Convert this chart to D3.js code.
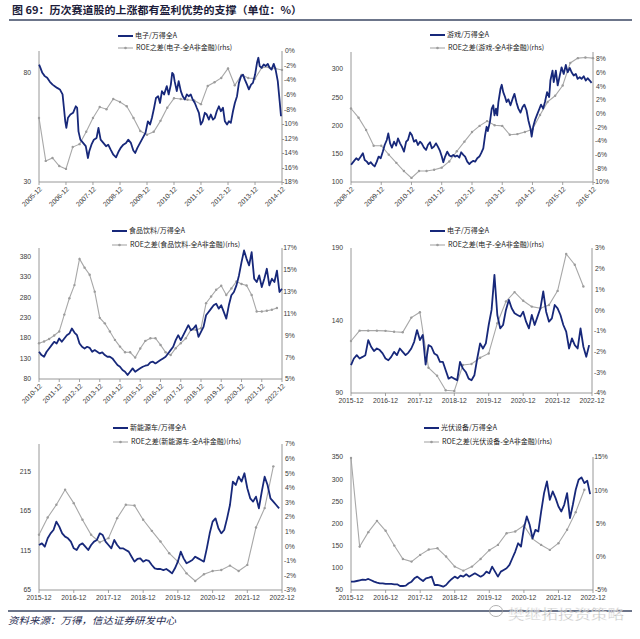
<!DOCTYPE html>
<html><head><meta charset="utf-8">
<script src="https://cdn.jsdelivr.net/npm/d3@7"></script>
<style>body{margin:0;background:#fff}svg{display:block}</style>
</head><body><svg id="c" width="640" height="639"></svg>
<script>
// ---------------- DATA ----------------
const titleText = "图 69：历次赛道股的上涨都有盈利优势的支撑（单位：%）";
const sourceText = "资料来源：万得，信达证券研发中心";
const watermarkText = "樊继拓投资策略";

// Panel 1: 电子 2005-12 ~ 2014-12 (blue as [decimal year, value])
const p1Names = ["电子/万得全A", "ROE之差(电子-全A非金融)(rhs)"];
const p1XLabels = ["2005-12","2006-12","2007-12","2008-12","2009-12","2010-12","2011-12","2012-12","2013-12","2014-12"];
const p1LeftTicks = [30, 80];
const p1RightTicks = [0,-2,-4,-6,-8,-10,-12,-14,-16,-18];
const p1Blue = [[2005.92,83.8],[2005.97,82.3],[2006.04,80],[2006.13,78.5],[2006.22,77.7],[2006.32,75.9],[2006.42,74.6],[2006.5,73.9],[2006.59,73.1],[2006.69,72.4],[2006.79,70.1],[2006.84,64],[2006.89,57.8],[2006.93,54.8],[2006.99,59.4],[2007.08,60.9],[2007.18,61.7],[2007.28,64.7],[2007.33,64],[2007.38,53.2],[2007.45,49.4],[2007.55,47.9],[2007.65,46.4],[2007.73,41],[2007.78,44.1],[2007.86,47.1],[2007.95,49.4],[2008.05,50.2],[2008.12,54.8],[2008.2,49.4],[2008.3,47.9],[2008.4,46.4],[2008.48,47.1],[2008.57,44.8],[2008.67,42.5],[2008.77,41.3],[2008.87,44.1],[2008.94,45.6],[2009.04,47.1],[2009.14,47.9],[2009.22,49.4],[2009.32,47.9],[2009.41,44.4],[2009.48,43.3],[2009.56,45.6],[2009.66,47.9],[2009.76,50.2],[2009.86,52.5],[2009.95,57.8],[2010.03,56.3],[2010.1,59.4],[2010.18,64],[2010.25,68.5],[2010.33,69.3],[2010.4,66.2],[2010.47,71.6],[2010.55,70.1],[2010.65,73.9],[2010.72,70.1],[2010.8,74.6],[2010.85,80],[2010.9,79.2],[2010.94,76.2],[2011.02,71.6],[2011.09,76.2],[2011.17,71.6],[2011.24,69.3],[2011.32,67.8],[2011.39,70.1],[2011.46,69.3],[2011.54,70.1],[2011.61,67.8],[2011.69,66.2],[2011.76,64],[2011.84,61.7],[2011.91,56.3],[2011.98,57.8],[2012.06,61.7],[2012.13,60.9],[2012.21,58.6],[2012.28,60.9],[2012.36,58.6],[2012.43,59.4],[2012.5,62.4],[2012.58,64.7],[2012.65,62.4],[2012.73,64],[2012.8,57.8],[2012.88,56.3],[2012.95,57.8],[2013.02,57.1],[2013.1,62.4],[2013.17,66.2],[2013.25,69.3],[2013.32,75.4],[2013.4,78.5],[2013.47,79.2],[2013.54,76.9],[2013.62,74.6],[2013.69,72.4],[2013.77,74.6],[2013.84,75.4],[2013.92,79.2],[2013.99,84.6],[2014.04,86.9],[2014.09,83.1],[2014.16,82.3],[2014.24,83.8],[2014.31,83.1],[2014.39,84.1],[2014.46,82.3],[2014.53,81.5],[2014.61,84.1],[2014.68,81.5],[2014.76,76.2],[2014.83,67],[2014.88,60.1]];
const p1Gray = [-9.2,-15.1,-14.7,-15.8,-16.2,-13.2,-12.8,-11.1,-9.2,-7.7,-8.0,-6.6,-7.0,-7.6,-9.2,-11.0,-11.5,-11.1,-9.6,-7.8,-6.5,-6.6,-6.7,-6.8,-7.3,-4.8,-4.3,-3.7,-2.4,-4.7,-3.3,-3.7,-3.8,-2.3,-2.2,-2.4,-2.6];

// Panel 2: 游戏 2008-12 ~ 2016-12
const p2Names = ["游戏/万得全A", "ROE之差(游戏-全A非金融)(rhs)"];
const p2XLabels = ["2008-12","2009-12","2010-12","2011-12","2012-12","2013-12","2014-12","2015-12","2016-12"];
const p2LeftTicks = [100,150,200,250,300];
const p2RightTicks = [8,6,4,2,0,-2,-4,-6,-8,-10];
const p2Blue = [[2008.92,130.4],[2009.0,136],[2009.09,142],[2009.16,139],[2009.24,145],[2009.31,151],[2009.37,139],[2009.44,136],[2009.5,131.6],[2009.57,135],[2009.64,130.4],[2009.7,127.5],[2009.77,136],[2009.83,145],[2009.9,142],[2009.97,153.8],[2010.03,165.5],[2010.1,174.3],[2010.15,186],[2010.21,168.4],[2010.27,160.8],[2010.34,171.3],[2010.41,164.3],[2010.47,177.2],[2010.54,168.4],[2010.6,162.6],[2010.67,153.8],[2010.74,171.3],[2010.8,174.3],[2010.87,187.7],[2010.93,183],[2011.0,171.3],[2011.07,174.3],[2011.13,165.5],[2011.2,171.3],[2011.26,167.8],[2011.33,160.8],[2011.4,156.7],[2011.46,165.5],[2011.53,170.2],[2011.59,159.6],[2011.66,162.6],[2011.73,168.4],[2011.79,162.6],[2011.86,155],[2011.92,145],[2011.97,135],[2012.03,145],[2012.1,153.8],[2012.17,146.8],[2012.23,145],[2012.3,148],[2012.36,145],[2012.43,146.8],[2012.5,143.3],[2012.56,152.6],[2012.63,148],[2012.69,145],[2012.76,136],[2012.83,131.6],[2012.89,135],[2012.96,137.4],[2013.02,136],[2013.09,142],[2013.16,145],[2013.22,151],[2013.29,159.6],[2013.35,183],[2013.4,197.7],[2013.44,190],[2013.51,206.4],[2013.57,229.8],[2013.62,235.7],[2013.66,218],[2013.71,229.8],[2013.75,218],[2013.79,241.5],[2013.86,265],[2013.9,272],[2013.95,259],[2014.01,250.3],[2014.06,241.5],[2014.12,246.2],[2014.19,235.7],[2014.26,247.4],[2014.32,256],[2014.39,240.4],[2014.45,229.8],[2014.52,222.8],[2014.59,232.7],[2014.65,236.8],[2014.72,226.9],[2014.78,209.4],[2014.85,194.7],[2014.89,180.1],[2014.94,197.7],[2015.0,209.4],[2015.07,219.3],[2015.14,228.7],[2015.2,236.8],[2015.27,229.8],[2015.33,241.5],[2015.4,259],[2015.47,250.3],[2015.51,279.5],[2015.58,297.1],[2015.62,276.6],[2015.69,297.1],[2015.75,270.8],[2015.82,288.3],[2015.88,302.9],[2015.95,291.2],[2016.02,307],[2016.08,294.2],[2016.15,301.8],[2016.21,294.2],[2016.28,288.3],[2016.35,291.2],[2016.41,282.5],[2016.48,285.4],[2016.54,282.5],[2016.61,287.1],[2016.68,279.5],[2016.74,283.6],[2016.81,279.5],[2016.87,275.4]];
const p2Gray = [0.74,-0.6,-2.4,-4.7,-4.7,-6.0,-7.2,-8.4,-9.4,-8.4,-8.4,-8.2,-7.9,-7.0,-5.5,-4.1,-2.7,-1.8,-1.1,-1.7,-1.8,-3.1,-3.0,-2.7,-2.3,-0.2,1.7,2.6,4.1,7.4,8.1,8.2,8.1];

// Panel 3: 食品饮料 2010-12 ~ 2022-12 (blue every 1.5 months)
const p3Names = ["食品饮料/万得全A", "ROE之差(食品饮料-全A非金融)(rhs)"];
const p3XLabels = ["2010-12","2011-12","2012-12","2013-12","2014-12","2015-12","2016-12","2017-12","2018-12","2019-12","2020-12","2021-12","2022-12"];
const p3LeftTicks = [80,130,180,230,280,330,380];
const p3RightTicks = [5,7,9,11,13,15,17];
const p3Blue = [146.5,138.4,134.3,146.5,154.6,162.7,170.8,166.8,179,170.8,179,187,191,203.3,193.5,187,166.8,158.7,154.6,158.7,156.2,146.5,150.6,146.5,142.4,144.9,138.4,134.3,134.3,130.3,122.2,114.1,110,101.9,97.8,89.7,97.8,106,97.8,101.9,106,110,112.4,114.1,120.6,122.2,118.1,122.2,126.2,130.3,134.3,142.4,150.6,158.7,174.9,187,174.9,187,199.2,211.4,199.2,203.3,211.4,183,195.2,207.3,235.7,243.8,251.9,260,264.1,251.9,260,243.8,227.6,260,284.4,292.5,308.7,333,365.5,393.9,373.6,357.4,389.8,325,316.8,333,304.7,325,349.3,308.7,325,316.8,344.7,292.5,300.6];
const p3Gray = [8.28,8.43,8.67,8.98,9.35,10.9,12.4,13.6,16.0,15.2,14.55,13.0,10.6,10.1,9.35,8.58,7.97,7.45,7.45,6.96,7.8,8.49,8.73,8.73,8.12,7.45,7.2,7.82,8.28,8.73,9.5,9.5,9.65,11.95,12.56,13.17,13.54,12.7,13.3,13.94,13.7,13.57,12.7,11.18,11.18,11.25,11.34,11.5];

// Panel 4: 电子 2015-12 ~ 2022-12 (blue monthly)
const p4Names = ["电子/万得全A", "ROE之差(电子-全A非金融)(rhs)"];
const p4XLabels = ["2015-12","2016-12","2017-12","2018-12","2019-12","2020-12","2021-12","2022-12"];
const p4LeftTicks = [90,140,190];
const p4RightTicks = [-4,-3,-2,-1,0,1,2,3];
const p4Blue = [109.2,113.8,116.1,113.8,114.9,116.1,126.5,121.9,118.9,120.7,119.6,117.3,113.8,112.6,114.9,118.4,116.1,120.7,118.4,116.1,117.9,120.7,125.3,133.4,126.5,130,109.6,123,121.9,117.3,116.1,111.5,111.5,105.7,99.9,101.1,99.9,98.8,111.5,106.9,104.5,99.9,98.8,102.2,113.8,124.2,120.7,124.2,136.9,147.3,171.5,143.8,134.6,136.9,147.3,154.2,148.4,145,143.8,142.7,146.1,139.2,134.6,143.8,136.9,142.7,148.4,160,146.1,139.2,141.5,150.7,148.4,143.8,136.9,132.3,120.7,127.6,123,120.7,134.6,121.9,115,123];
const p4Gray = [-1.49,-0.99,-0.99,-0.99,-1.0,-1.04,-1.07,-0.36,-0.1,-2.78,-3.17,-3.87,-3.9,-2.65,-2.6,-2.3,-2.09,-0.63,0.42,0.87,0.45,0.17,0.09,0.25,0.93,2.71,2.19,1.14];

// Panel 5: 新能源车 2015-12 ~ 2022-12 (blue monthly)
const p5Names = ["新能源车/万得全A", "ROE之差(新能源车-全A非金融)(rhs)"];
const p5XLabels = ["2015-12","2016-12","2017-12","2018-12","2019-12","2020-12","2021-12","2022-12"];
const p5LeftTicks = [65,115,165,215];
const p5RightTicks = [-3,-2,-1,0,1,2,3,4,5,6,7];
const p5Blue = [122,124.1,119.9,130.5,136.8,141,151.6,145.3,136.8,132.6,130.5,126.3,117.8,115.7,122,124.1,119.9,115.7,122,126.3,128.4,136.8,134.7,126.3,122,117.8,128.4,122,117.8,117.8,115.7,113.6,107.2,100.9,104.3,105.1,100.9,103,101.8,96.7,92.5,91.6,91.6,90.3,91.6,89.1,86.1,92.5,100.9,113.6,105.1,98.8,100.9,103,107.2,105.1,103,100.9,117.8,136.8,151.6,155.8,143.2,136.8,141,155.8,172.7,202.3,198.1,208.6,202.3,212.9,193.9,181.2,177,183.3,168.5,189.6,208.6,198.1,181.2,177,172.7,168.5];
const p5Gray = [0.78,1.97,2.84,3.87,2.95,1.81,0.78,0.27,0.55,1.92,2.84,2.79,1.81,1.05,0.32,-0.48,-1.05,-1.86,-2.38,-1.92,-1.7,-1.63,-1.33,-1.7,-1.28,1.28,2.61,5.47];

// Panel 6: 光伏设备 2015-12 ~ 2022-12 (blue monthly)
const p6Names = ["光伏设备/万得全A", "ROE之差(光伏设备-全A非金融)(rhs)"];
const p6XLabels = ["2015-12","2016-12","2017-12","2018-12","2019-12","2020-12","2021-12","2022-12"];
const p6LeftTicks = [50,100,150,200,250,300,350];
const p6RightTicks = [-5,0,5,10,15];
const p6Blue = [68.8,68.8,70.3,71.9,73.4,72.6,74.9,71.9,68.8,66.6,65.1,65.1,63.6,63.6,63.6,62.8,62.8,59,59,59.8,65.1,68.8,76.4,80.1,74.9,70.3,76.4,77.9,80.1,61.3,61.3,59.8,57.5,61.3,68.8,74.9,80.1,76.4,82.4,80.1,85.4,80.1,83.9,87.7,83.9,80.1,83.9,91.4,87.7,102.8,91.4,80.1,91.4,95.2,99,106.5,121.6,136.7,155.5,147.9,189.4,215.8,197,166.8,185.6,181.9,227.1,268.5,294.9,253.5,272.3,257.2,238.4,227.1,242.2,268.5,212,242.2,276.1,298.7,304,291.1,296.4,266.3];
const p6Gray = [14.85,1.53,3.7,5.4,3.9,1.68,-0.33,-0.73,0.28,1.08,1.28,0.03,-1.48,-2.09,-1.48,-0.33,0.98,1.78,3.54,3.79,4.7,2.69,1.78,1.03,2.04,4.05,6.71,10.08];

// ---------------- HELPERS ----------------
const toDate = t => { const y = Math.floor(t); const a = Date.UTC(y,0,1), b = Date.UTC(y+1,0,1); return new Date(a + (t-y)*(b-a)); };
const labelYear = s => +s.slice(0,4) + (+s.slice(5)-1)/12;
const pairsSeries = arr => arr.map(d => [toDate(d[0]), d[1]]);
const stepSeries = (arr, start, stepMonths) => arr.map((v,i) => [toDate(start + i*stepMonths/12), v]);

// ---------------- LAYOUT ----------------
const BLUE = "#17287a", GRAY = "#a8a8a8", AXIS = "#8c8c8c", TXT = "#3a3a3a";
const panels = [
  {names:p1Names, xl:p1XLabels, lt:p1LeftTicks, rt:p1RightTicks, ld:[30,90], rd:[-18,0], blue:pairsSeries(p1Blue), gray:p1Gray, rot:true,
   box:{l:39,t:51,r:282,b:182}, leg:{x:118,y1:36,y2:48}},
  {names:p2Names, xl:p2XLabels, lt:p2LeftTicks, rt:p2RightTicks, ld:[100,330], rd:[-10,9], blue:pairsSeries(p2Blue), gray:p2Gray, rot:true,
   box:{l:351,t:52,r:593,b:182}, leg:{x:430,y1:35,y2:48}},
  {names:p3Names, xl:p3XLabels, lt:p3LeftTicks, rt:p3RightTicks, ld:[80,400], rd:[5,17], blue:stepSeries(p3Blue, labelYear(p3XLabels[0]), 1.5), gray:p3Gray, rot:true,
   box:{l:39,t:248,r:282,b:379}, leg:{x:112,y1:231,y2:245}},
  {names:p4Names, xl:p4XLabels, lt:p4LeftTicks, rt:p4RightTicks, ld:[90,190], rd:[-4,3], blue:stepSeries(p4Blue, labelYear(p4XLabels[0]), 1), gray:p4Gray, rot:false,
   box:{l:351,t:248,r:592,b:393}, leg:{x:430,y1:231,y2:245}},
  {names:p5Names, xl:p5XLabels, lt:p5LeftTicks, rt:p5RightTicks, ld:[65,250], rd:[-3,7], blue:stepSeries(p5Blue, labelYear(p5XLabels[0]), 1), gray:p5Gray, rot:false,
   box:{l:39,t:444,r:282,b:590}, leg:{x:113,y1:428,y2:442}},
  {names:p6Names, xl:p6XLabels, lt:p6LeftTicks, rt:p6RightTicks, ld:[50,350], rd:[-5,15], blue:stepSeries(p6Blue, labelYear(p6XLabels[0]), 1), gray:p6Gray, rot:false,
   box:{l:351,t:457,r:593,b:590}, leg:{x:424,y1:428,y2:442}}
];

const svg = d3.select("#c");
const NUMFONT = "'Liberation Sans', Arial, sans-serif";
const CJK = "'Noto Sans CJK SC', sans-serif";

// title
svg.append("text").attr("x",12).attr("y",14).attr("font-family",CJK).attr("font-weight","bold")
  .attr("font-size",10.5).attr("fill","#1c1c3a").attr("textLength",290).attr("lengthAdjust","spacingAndGlyphs").text(titleText);
svg.append("line").attr("x1",9).attr("x2",632).attr("y1",20).attr("y2",20).attr("stroke","#3b4763").attr("stroke-width",1.6);

panels.forEach(p => {
  const g = svg.append("g");
  const b = p.box;
  const x0 = labelYear(p.xl[0]), x1 = labelYear(p.xl[p.xl.length-1]);
  const x = d3.scaleUtc().domain([toDate(x0), toDate(x1)]).range([b.l, b.r]);
  const yl = d3.scaleLinear().domain(p.ld).range([b.b, b.t]);
  const yr = d3.scaleLinear().domain(p.rd).range([b.b, b.t]);

  // axes lines
  g.append("line").attr("x1",b.l).attr("x2",b.l).attr("y1",b.t).attr("y2",b.b).attr("stroke",AXIS).attr("stroke-width",0.9);
  g.append("line").attr("x1",b.r).attr("x2",b.r).attr("y1",b.t).attr("y2",b.b).attr("stroke",AXIS).attr("stroke-width",0.9);
  g.append("line").attr("x1",b.l).attr("x2",b.r).attr("y1",b.b).attr("y2",b.b).attr("stroke",AXIS).attr("stroke-width",0.9);

  // left ticks
  p.lt.forEach(v => {
    g.append("text").attr("x",b.l-8).attr("y",yl(v)).attr("dy","0.35em").attr("text-anchor","end")
      .attr("font-family",NUMFONT).attr("font-size",6.8).attr("fill",TXT).text(v);
  });
  // right ticks
  p.rt.forEach(v => {
    g.append("text").attr("x",b.r+8).attr("y",yr(v)).attr("dy","0.35em").attr("text-anchor","middle")
      .attr("font-family",NUMFONT).attr("font-size",6.8).attr("fill",TXT).text(v + "%");
  });
  // x ticks & labels
  p.xl.forEach(s => {
    const xx = x(toDate(labelYear(s)));
    g.append("line").attr("x1",xx).attr("x2",xx).attr("y1",b.b).attr("y2",b.b+3).attr("stroke",AXIS).attr("stroke-width",0.8);
    if (p.rot) {
      g.append("text").attr("transform",`translate(${xx+2},${b.b+6}) rotate(-45)`).attr("text-anchor","end").attr("dy","0.3em")
        .attr("font-family",NUMFONT).attr("font-size",6.8).attr("fill",TXT).text(s);
    } else {
      g.append("text").attr("x",xx).attr("y",b.b+10).attr("text-anchor","middle")
        .attr("font-family",NUMFONT).attr("font-size",6.8).attr("fill",TXT).text(s);
    }
  });

  // gray series (quarterly from start)
  const grayPts = stepSeries(p.gray, x0, 3);
  g.append("path").datum(grayPts).attr("fill","none").attr("stroke",GRAY).attr("stroke-width",1.1)
    .attr("d", d3.line().x(d => x(d[0])).y(d => yr(d[1])));
  g.selectAll(null).data(grayPts).enter().append("circle").attr("cx",d=>x(d[0])).attr("cy",d=>yr(d[1])).attr("r",1.2).attr("fill","#9c9c9c");

  // blue series
  g.append("path").datum(p.blue).attr("fill","none").attr("stroke",BLUE).attr("stroke-width",1.8).attr("stroke-linejoin","round")
    .attr("d", d3.line().x(d => x(d[0])).y(d => yl(d[1])));

  // legend
  const L = p.leg;
  g.append("line").attr("x1",L.x).attr("x2",L.x+15).attr("y1",L.y1).attr("y2",L.y1).attr("stroke",BLUE).attr("stroke-width",2);
  g.append("text").attr("x",L.x+17).attr("y",L.y1).attr("dy","0.35em").attr("font-family",CJK).attr("font-size",7).attr("fill","#222").text(p.names[0]);
  g.append("line").attr("x1",L.x).attr("x2",L.x+15).attr("y1",L.y2).attr("y2",L.y2).attr("stroke",GRAY).attr("stroke-width",1.1);
  g.append("circle").attr("cx",L.x+7.5).attr("cy",L.y2).attr("r",1.3).attr("fill","#9c9c9c");
  g.append("text").attr("x",L.x+18).attr("y",L.y2).attr("dy","0.35em").attr("font-family",CJK).attr("font-size",7).attr("fill","#222").text(p.names[1]);
});

// footer
svg.append("line").attr("x1",8).attr("x2",632).attr("y1",611).attr("y2",611).attr("stroke","#3b4763").attr("stroke-width",1.6);
svg.append("text").attr("x",8).attr("y",624).attr("font-family",CJK).attr("font-style","italic").attr("font-size",9.5)
  .attr("fill","#1e2a50").attr("textLength",168).attr("lengthAdjust","spacingAndGlyphs").text(sourceText);
// watermark
const wm = svg.append("g").attr("opacity",0.75);
wm.append("ellipse").attr("cx",496).attr("cy",611).attr("rx",6.5).attr("ry",5.5).attr("fill","none").attr("stroke","#9a9a9a").attr("stroke-width",1);
wm.append("text").attr("x",508).attr("y",619).attr("font-family",CJK).attr("font-size",13.5).attr("fill","#a0a0a0")
  .attr("stroke","#fff").attr("stroke-width",0.4).attr("textLength",116).attr("lengthAdjust","spacingAndGlyphs").text(watermarkText);
</script></body></html>
